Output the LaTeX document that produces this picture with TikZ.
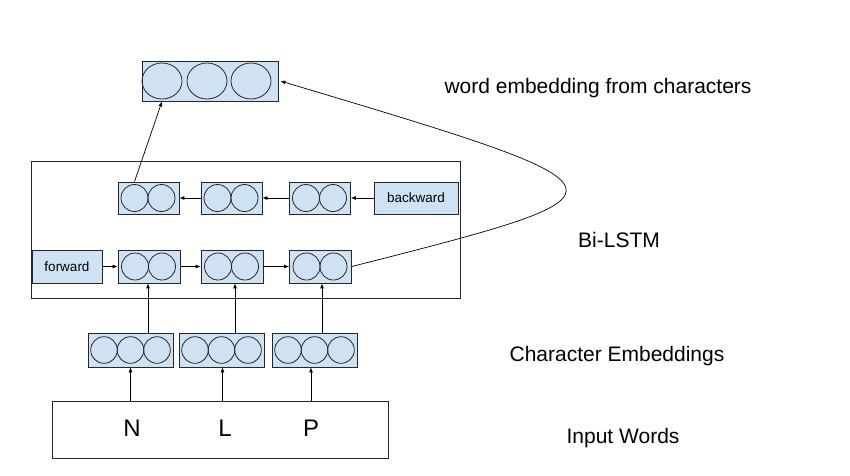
\documentclass[tikz,border=0pt]{standalone}
\usepackage{fontspec}
\setmainfont{Liberation Sans}
\usetikzlibrary{arrows.meta}
\definecolor{cellblue}{HTML}{CFE2F3}

\begin{document}
\begin{tikzpicture}[x=1pt, y=-1pt,
  box/.style={draw=black!85, fill=cellblue, line width=0.8pt, inner sep=0pt},
  cell/.style={draw=black!85, line width=0.8pt},
  link/.style={-{Latex[length=5pt,width=4pt]}, line width=0.7pt},
  lbl/.style={font=\fontsize{21}{25}\selectfont}]

\useasboundingbox (0,0) rectangle (850,475);

% word embedding on top
\node[box, minimum width=136pt, minimum height=40pt] (wemb) at (210,81) {};
\draw[cell] ([xshift=-48pt]wemb.center) ellipse [x radius=20pt, y radius=18pt];
\draw[cell] ([xshift=-3pt]wemb.center) ellipse [x radius=20pt, y radius=18pt];
\draw[cell] ([xshift=41pt]wemb.center) ellipse [x radius=20pt, y radius=18pt];

% Bi-LSTM frame
\node[draw=black!85, line width=0.8pt, minimum width=429pt, minimum height=137pt] (lstm) at (245.5,229.5) {};

% backward row
\node[box, minimum width=84pt, minimum height=32pt, font=\fontsize{13.5}{16}\selectfont] (bw) at (416,198) {backward};
\node[box, minimum width=61pt, minimum height=32pt] (b3) at (320,198) {};
\node[box, minimum width=61pt, minimum height=32pt] (b2) at (231.5,198) {};
\node[box, minimum width=61pt, minimum height=32pt] (b1) at (148.5,198) {};
\draw[cell] ([xshift=-14pt]b1.center) circle [radius=13.5pt];
\draw[cell] ([xshift=13pt]b1.center) circle [radius=13.5pt];
\draw[cell] ([xshift=-14pt]b2.center) circle [radius=13.5pt];
\draw[cell] ([xshift=13pt]b2.center) circle [radius=13.5pt];
\draw[cell] ([xshift=-14pt]b3.center) circle [radius=13.5pt];
\draw[cell] ([xshift=13pt]b3.center) circle [radius=13.5pt];

% forward row
\node[box, minimum width=70pt, minimum height=33pt, font=\fontsize{13.5}{16}\selectfont] (fw) at (67,266.5) {forward};
\node[box, minimum width=62pt, minimum height=33pt] (f1) at (149,266.5) {};
\node[box, minimum width=62pt, minimum height=33pt] (f2) at (232,266.5) {};
\node[box, minimum width=62pt, minimum height=33pt] (f3) at (320.5,266.5) {};
\draw[cell] ([xshift=-14pt]f1.center) circle [radius=13.5pt];
\draw[cell] ([xshift=13pt]f1.center) circle [radius=13.5pt];
\draw[cell] ([xshift=-14pt]f2.center) circle [radius=13.5pt];
\draw[cell] ([xshift=13pt]f2.center) circle [radius=13.5pt];
\draw[cell] ([xshift=-14pt]f3.center) circle [radius=13.5pt];
\draw[cell] ([xshift=13pt]f3.center) circle [radius=13.5pt];

% character embeddings
\node[box, minimum width=85pt, minimum height=34pt] (c1) at (130.5,350) {};
\node[box, minimum width=85pt, minimum height=34pt] (c2) at (221.5,350) {};
\node[box, minimum width=85pt, minimum height=34pt] (c3) at (314.5,350) {};
\draw[cell] ([xshift=-26.5pt]c1.center) circle [radius=13.3pt];
\draw[cell] (c1.center) circle [radius=13.3pt];
\draw[cell] ([xshift=26.5pt]c1.center) circle [radius=13.3pt];
\draw[cell] ([xshift=-26.5pt]c2.center) circle [radius=13.3pt];
\draw[cell] (c2.center) circle [radius=13.3pt];
\draw[cell] ([xshift=26.5pt]c2.center) circle [radius=13.3pt];
\draw[cell] ([xshift=-26.5pt]c3.center) circle [radius=13.3pt];
\draw[cell] (c3.center) circle [radius=13.3pt];
\draw[cell] ([xshift=26.5pt]c3.center) circle [radius=13.3pt];

% input words
\node[draw=black!85, line width=0.8pt, minimum width=336pt, minimum height=57pt] (inp) at (220,429.5) {};
\node[font=\fontsize{24}{28}\selectfont] (chN) at (132,428) {N};
\node[font=\fontsize{24}{28}\selectfont] (chL) at (225,428) {L};
\node[font=\fontsize{24}{28}\selectfont] (chP) at (311,428) {P};

% labels
\node[lbl] (lwemb) at (598,88) {word embedding from characters};
\node[lbl] (lbi) at (619,240) {Bi-LSTM};
\node[lbl] (lchar) at (617,356) {Character Embeddings};
\node[lbl] (linp) at (623,438) {Input Words};

% arrows
\draw[link] (c1.south |- inp.north) -- (c1.south);
\draw[link] ([xshift=1pt]c2.south |- inp.north) -- ([xshift=1pt]c2.south);
\draw[link] (chP.center |- inp.north) -- (chP.center |- c3.south);
\draw[link] ([xshift=-1pt]f1.south |- c1.north) -- ([xshift=-1pt]f1.south);
\draw[link] ([xshift=3pt]f2.south |- c2.north) -- ([xshift=3pt]f2.south);
\draw[link] ([xshift=1.5pt]f3.south |- c3.north) -- ([xshift=1.5pt]f3.south);
\draw[link] (fw.east) -- (f1.west);
\draw[link] (f1.east) -- (f2.west);
\draw[link] (f2.east) -- (f3.west);
\draw[link] (bw.west) -- (b3.east);
\draw[link] (b3.west) -- (b2.east);
\draw[link] (b2.west) -- (b1.east);
\draw[link] ([xshift=-14pt]b1.north) -- ([xshift=-48pt]wemb.south);
\draw[link] (f3.east) .. controls (648,191) .. ([xshift=2pt]wemb.east);

\end{tikzpicture}
\end{document}
